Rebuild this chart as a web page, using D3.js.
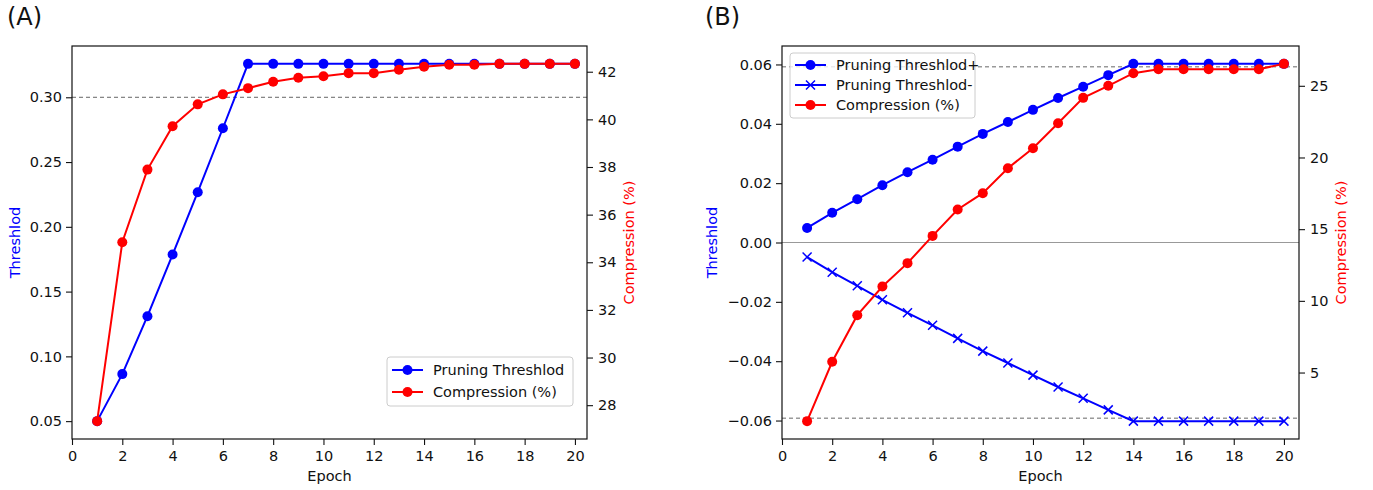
<!DOCTYPE html>
<html>
<head>
<meta charset="utf-8">
<script src="https://cdn.jsdelivr.net/npm/d3@7"></script>
<style>
  body { margin: 0; background: #fff; }
  svg { display: block; font-family: "DejaVu Sans", sans-serif; }
</style>
</head>
<body>
<div id="root"></div>
<script>
// DATA
const epochs = [1, 2, 3, 4, 5, 6, 7, 8, 9, 10, 11, 12, 13, 14, 15, 16, 17, 18, 19, 20];

// panel A
const aThreshold = [0.05, 0.0863, 0.131, 0.1786, 0.2267, 0.2761, 0.3258, 0.3258, 0.3258, 0.3258,
  0.3258, 0.3258, 0.3258, 0.3258, 0.3258, 0.3258, 0.3258, 0.3258, 0.3258, 0.3258];
const aCompression = [27.33, 34.84, 37.89, 39.71, 40.63, 41.05, 41.31, 41.58, 41.75, 41.81,
  41.94, 41.94, 42.08, 42.21, 42.29, 42.29, 42.33, 42.33, 42.33, 42.33];
const aLeftTicks = [0.05, 0.10, 0.15, 0.20, 0.25, 0.30];
const aRightTicks = [28, 30, 32, 34, 36, 38, 40, 42];
const aDashed = [0.30];

// panel B
const bThresholdPos = [0.0049, 0.0100, 0.0146, 0.0193, 0.0237, 0.0279, 0.0323, 0.0366, 0.0406, 0.0447,
  0.0487, 0.0525, 0.0564, 0.0602, 0.0602, 0.0602, 0.0602, 0.0602, 0.0602, 0.0602];
const bThresholdNeg = [-0.0049, -0.0100, -0.0146, -0.0193, -0.0237, -0.0279, -0.0323, -0.0366, -0.0406, -0.0447,
  -0.0487, -0.0525, -0.0564, -0.0602, -0.0602, -0.0602, -0.0602, -0.0602, -0.0602, -0.0602];
const bCompression = [1.61, 5.75, 9.0, 11.0, 12.63, 14.53, 16.37, 17.51, 19.25, 20.65,
  22.39, 24.16, 25.0, 25.88, 26.16, 26.16, 26.16, 26.16, 26.16, 26.53];
const bLeftTicks = [-0.06, -0.04, -0.02, 0.00, 0.02, 0.04, 0.06];
const bRightTicks = [5, 10, 15, 20, 25];
const bDashed = [0.0592, -0.0592];

const xTicks = [0, 2, 4, 6, 8, 10, 12, 14, 16, 18, 20];

// STYLE
const BLUE = "#0000ff", RED = "#ff0000";
const FONT = 14.5;
const width = 1373, height = 490;

let svg = d3.select("#root").append("svg")
  .attr("width", width)
  .attr("height", height);

// matplotlib-like 5% padding
function padded(values) {
  let lo = d3.min(values), hi = d3.max(values), p = (hi - lo) * 0.05;
  return [lo - p, hi + p];
}

function drawPanel(cfg) {
  let g = svg.append("g");

  let x = d3.scaleLinear().domain(cfg.xDomain).range([cfg.left, cfg.right]);
  let yL = d3.scaleLinear().domain(cfg.yLDomain).range([cfg.bottom, cfg.top]);
  let yR = d3.scaleLinear().domain(cfg.yRDomain).range([cfg.bottom, cfg.top]);

  // reference lines
  if (cfg.zeroLine) {
    g.append("line")
      .attr("x1", cfg.left).attr("x2", cfg.right)
      .attr("y1", yL(0)).attr("y2", yL(0))
      .attr("stroke", "#999").attr("stroke-width", 1.2);
  }
  g.selectAll(".dash").data(cfg.dashed).enter().append("line")
    .attr("x1", cfg.left).attr("x2", cfg.right)
    .attr("y1", d => yL(d)).attr("y2", d => yL(d))
    .attr("stroke", "#555").attr("stroke-width", 0.9)
    .attr("stroke-dasharray", "4,3");

  // series
  cfg.series.forEach(s => {
    let y = s.axis === "right" ? yR : yL;
    let pts = epochs.map((e, i) => [x(e), y(s.values[i])]);
    g.append("path")
      .attr("d", d3.line()(pts))
      .attr("fill", "none")
      .attr("stroke", s.color)
      .attr("stroke-width", 2);
    if (s.marker === "o") {
      g.selectAll(null).data(pts).enter().append("circle")
        .attr("cx", d => d[0]).attr("cy", d => d[1])
        .attr("r", 5).attr("fill", s.color);
    } else {
      let m = 4.5;
      g.selectAll(null).data(pts).enter().append("path")
        .attr("d", d => `M${d[0] - m},${d[1] - m}L${d[0] + m},${d[1] + m}M${d[0] - m},${d[1] + m}L${d[0] + m},${d[1] - m}`)
        .attr("stroke", s.color).attr("stroke-width", 1.5);
    }
  });

  // frame
  g.append("rect")
    .attr("x", cfg.left).attr("y", cfg.top)
    .attr("width", cfg.right - cfg.left).attr("height", cfg.bottom - cfg.top)
    .attr("fill", "none").attr("stroke", "#111").attr("stroke-width", 1.2);

  // axes
  let styleAxis = sel => {
    sel.select(".domain").remove();
    sel.selectAll("line").attr("stroke", "#111").attr("stroke-width", 1.1);
    sel.selectAll("text").style("font-size", FONT + "px").attr("fill", "#111")
      .style("font-family", "DejaVu Sans");
  };
  g.append("g")
    .attr("transform", `translate(0, ${cfg.bottom})`)
    .call(d3.axisBottom(x).tickValues(xTicks).tickFormat(d3.format("d")).tickSize(6).tickPadding(6))
    .call(styleAxis);
  g.append("g")
    .attr("transform", `translate(${cfg.left}, 0)`)
    .call(d3.axisLeft(yL).tickValues(cfg.leftTicks).tickFormat(d3.format(".2f")).tickSize(6).tickPadding(4))
    .call(styleAxis);
  g.append("g")
    .attr("transform", `translate(${cfg.right}, 0)`)
    .call(d3.axisRight(yR).tickValues(cfg.rightTicks).tickFormat(d3.format("d")).tickSize(6).tickPadding(5))
    .call(styleAxis);

  let midY = (cfg.top + cfg.bottom) / 2;
  // labels
  g.append("text")
    .attr("transform", `translate(${cfg.leftLabelX}, ${midY}) rotate(-90)`)
    .attr("text-anchor", "middle").attr("dy", "0.35em")
    .style("font-size", FONT + "px").attr("fill", BLUE)
    .text("Threshlod");
  g.append("text")
    .attr("transform", `translate(${cfg.rightLabelX}, ${midY}) rotate(-90)`)
    .attr("text-anchor", "middle").attr("dy", "0.35em")
    .style("font-size", FONT + "px").attr("fill", RED)
    .text("Compression (%)");
  g.append("text")
    .attr("x", (cfg.left + cfg.right) / 2).attr("y", 476)
    .attr("text-anchor", "middle").attr("dy", "0.35em")
    .style("font-size", FONT + "px").attr("fill", "#111")
    .text("Epoch");
  g.append("text")
    .attr("x", cfg.panelX).attr("y", 25)
    .style("font-size", "24px").attr("fill", "#111")
    .text(cfg.panel);

  // legend
  let L = cfg.legend;
  let legend = g.append("g").attr("transform", `translate(${L.x}, ${L.y})`);
  legend.append("rect")
    .attr("width", L.w).attr("height", L.h).attr("rx", 3)
    .attr("fill", "rgba(255,255,255,0.8)").attr("stroke", "#ccc").attr("stroke-width", 1);
  let items = legend.selectAll(".legend-item").data(cfg.series).enter().append("g")
    .attr("transform", (d, i) => `translate(0, ${L.first + i * L.step})`);
  items.append("line")
    .attr("x1", 5).attr("x2", 36)
    .attr("stroke", d => d.color).attr("stroke-width", 2);
  items.each(function (d) {
    let it = d3.select(this);
    if (d.marker === "o") {
      it.append("circle").attr("cx", 20.5).attr("r", 5).attr("fill", d.color);
    } else {
      let m = 4.5;
      it.append("path")
        .attr("d", `M${20.5 - m},${-m}L${20.5 + m},${m}M${20.5 - m},${m}L${20.5 + m},${-m}`)
        .attr("stroke", d.color).attr("stroke-width", 1.5);
    }
  });
  items.append("text")
    .attr("x", 46).attr("dy", "0.35em")
    .style("font-size", FONT + "px").attr("fill", "#111")
    .text(d => d.name);
}

drawPanel({
  panel: "(A)", panelX: 7,
  left: 72, right: 587, top: 46, bottom: 439,
  xDomain: [0, 20.48],
  yLDomain: padded(aThreshold),
  yRDomain: padded(aCompression),
  leftTicks: aLeftTicks, rightTicks: aRightTicks,
  dashed: aDashed, zeroLine: false,
  leftLabelX: 15, rightLabelX: 629,
  series: [
    { name: "Pruning Threshlod", values: aThreshold, color: BLUE, marker: "o", axis: "left" },
    { name: "Compression (%)", values: aCompression, color: RED, marker: "o", axis: "right" }
  ],
  legend: { x: 387, y: 357, w: 186, h: 49, first: 13, step: 22 }
});

drawPanel({
  panel: "(B)", panelX: 705,
  left: 782, right: 1299, top: 46, bottom: 439,
  xDomain: [0, 20.6],
  yLDomain: padded(bThresholdPos.concat(bThresholdNeg)),
  yRDomain: padded(bCompression),
  leftTicks: bLeftTicks, rightTicks: bRightTicks,
  dashed: bDashed, zeroLine: true,
  leftLabelX: 712, rightLabelX: 1341,
  series: [
    { name: "Pruning Threshlod+", values: bThresholdPos, color: BLUE, marker: "o", axis: "left" },
    { name: "Pruning Threshlod-", values: bThresholdNeg, color: BLUE, marker: "x", axis: "left" },
    { name: "Compression (%)", values: bCompression, color: RED, marker: "o", axis: "right" }
  ],
  legend: { x: 790, y: 53, w: 185, h: 65, first: 12, step: 20 }
});
</script>
</body>
</html>
